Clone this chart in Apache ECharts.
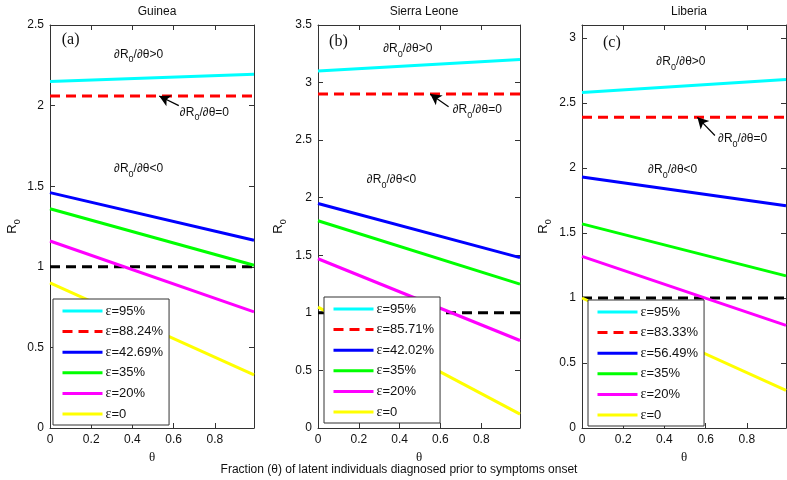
<!DOCTYPE html>
<html>
<head>
<meta charset="utf-8">
<script src="https://cdn.jsdelivr.net/npm/echarts@6/dist/echarts.min.js"></script>
<style>
  html, body { margin: 0; padding: 0; background: #fff; }
  #chart { width: 787px; height: 480px; }
</style>
</head>
<body>
<div id="chart"></div>
<script>
// theta range of every curve (endpoints, the curves are straight)
const theta = [0, 0.99]

const panelTitles = ['Guinea', 'Sierra Leone', 'Liberia']
const panelTags = ['(a)', '(b)', '(c)']

// legend labels per panel
const guineaNames = ['ε=95%', 'ε=88.24%', 'ε=42.69%', 'ε=35%', 'ε=20%', 'ε=0']
const sierraNames = ['ε=95%', 'ε=85.71%', 'ε=42.02%', 'ε=35%', 'ε=20%', 'ε=0']
const liberiaNames = ['ε=95%', 'ε=83.33%', 'ε=56.49%', 'ε=35%', 'ε=20%', 'ε=0']

// R0 at theta = 0 and theta = 0.99, same order as the names
const guineaR0 = [[2.15, 2.195], [2.06, 2.06], [1.46, 1.165], [1.36, 1.01], [1.16, 0.72], [0.9, 0.33]]
const sierraR0 = [[3.1, 3.2], [2.9, 2.9], [1.95, 1.48], [1.8, 1.25], [1.47, 0.76], [1.05, 0.12]]
const liberiaR0 = [[2.58, 2.68], [2.39, 2.39], [1.93, 1.71], [1.57, 1.17], [1.32, 0.79], [1.0, 0.29]]

const threshold = [1, 1]

// y axis ranges
const yMax = [2.5, 3.5, 3.1]

// annotation anchors (data coords): tag, >0, =0 text, arrow tip, arrow tail, <0
const tagPos = [[0.1, 2.41], [0.1, 3.35], [0.145, 2.96]]
const posText = [[0.43, 2.33], [0.44, 3.31], [0.48, 2.83]]
const zeroText = [[0.63, 1.97], [0.66, 2.78], [0.66, 2.24]]
const arrowTip = [[0.53, 2.06], [0.55, 2.9], [0.56, 2.39]]
const arrowTail = [[0.625, 2.0], [0.64, 2.79], [0.645, 2.25]]
const negText = [[0.43, 1.62], [0.36, 2.17], [0.44, 2.0]]

const colors = ['#00ffff', '#ff0000', '#0000ff', '#00ff00', '#ff00ff', '#ffff00']

const names = [guineaNames, sierraNames, liberiaNames]
const values = [guineaR0, sierraR0, liberiaR0]

const font = 'Liberation Sans, Arial, sans-serif'
const serif = 'Liberation Serif, Times New Roman, serif'
const grids = [
  { left: 50, right: 533, top: 25, bottom: 52 },
  { left: 318, right: 267, top: 25, bottom: 52 },
  { left: 582, right: 1, top: 25, bottom: 52 }
]
const legendBox = [{ left: 53, top: 299 }, { left: 324, top: 297 }, { left: 588, top: 300 }]
const yNameX = [11, 277, 542]

const rich = {
  a: { fontFamily: font, fontSize: 12, color: '#111', lineHeight: 16, verticalAlign: 'bottom' },
  s: { fontFamily: font, fontSize: 9, color: '#111', lineHeight: 10, verticalAlign: 'bottom', padding: [0, 0, -4, 0] },
  t: { fontFamily: serif, fontSize: 16, color: '#111' }
}
const deriv = (op) => `{a|∂R}{s|0}{a|/∂θ${op}0}`

function onlyTicks(step) {
  return (v) => Math.abs(v / step - Math.round(v / step)) < 1e-6 ? String(+v.toFixed(2)) : ''
}

const xAxis = [], yAxis = [], series = [], legend = [], title = [], graphic = []

for (let p = 0; p < 3; p++) {
  const base = {
    gridIndex: p, type: 'value', min: 0,
    axisLine: { show: true, onZero: false, lineStyle: { color: '#333', width: 1 } },
    axisTick: { show: true, inside: true, length: 5, lineStyle: { color: '#333' } },
    splitLine: { show: false }
  }
  xAxis.push(Object.assign({}, base, {
    max: theta[1], interval: 0.2, position: 'bottom',
    axisLabel: { fontFamily: font, fontSize: 12, color: '#111', margin: 6, formatter: onlyTicks(0.2), showMaxLabel: false },
    name: 'θ', nameLocation: 'middle', nameGap: 22,
    nameTextStyle: { fontFamily: serif, fontSize: 13, color: '#111' }
  }))
  xAxis.push(Object.assign({}, base, {
    max: theta[1], interval: 0.2, position: 'top', axisLabel: { show: false }
  }))
  yAxis.push(Object.assign({}, base, {
    max: yMax[p], interval: 0.5, position: 'left',
    axisLabel: { fontFamily: font, fontSize: 12, color: '#111', margin: 6, formatter: onlyTicks(0.5) }
  }))
  yAxis.push(Object.assign({}, base, {
    max: yMax[p], interval: 0.5, position: 'right', axisLabel: { show: false }
  }))

  for (let i = 0; i < 6; i++) {
    series.push({
      name: names[p][i], type: 'line', xAxisIndex: 2 * p, yAxisIndex: 2 * p,
      data: theta.map((t, k) => [t, values[p][i][k]]),
      symbol: 'none', color: colors[i], silent: true, z: 2,
      lineStyle: { color: colors[i], width: 3, type: i === 1 ? [10, 6] : 'solid' }
    })
  }
  // R0 = 1 reference line, carries the annotations
  series.push({
    name: 'R0=1 ' + p, type: 'line', xAxisIndex: 2 * p, yAxisIndex: 2 * p,
    data: theta.map((t, k) => [t, threshold[k]]),
    symbol: 'none', silent: true, z: 1,
    lineStyle: { color: '#000', width: 3, type: [10, 6] },
    markPoint: {
      symbol: 'circle', symbolSize: 0, silent: true,
      label: { show: true, position: 'inside', rich: rich },
      data: [
        { coord: tagPos[p], label: { formatter: '{t|' + panelTags[p] + '}' } },
        { coord: posText[p], label: { formatter: deriv('>') } },
        { coord: zeroText[p], label: { formatter: deriv('='), position: 'right', distance: 0 } },
        { coord: negText[p], label: { formatter: deriv('<') } }
      ]
    },
    markLine: {
      silent: true, symbol: ['none', 'arrow'], symbolSize: [9, 11],
      label: { show: false },
      lineStyle: { color: '#000', width: 1.2, type: 'solid' },
      data: [[{ coord: arrowTail[p] }, { coord: arrowTip[p] }]]
    }
  })

  legend.push({
    data: names[p], orient: 'vertical', left: legendBox[p].left, top: legendBox[p].top,
    itemWidth: 40, itemHeight: 14, itemGap: 6.6, padding: [5, 6, 4, 8],
    backgroundColor: '#fff', borderColor: '#333', borderWidth: 1, borderRadius: 0,
    selectedMode: false, z: 20,
    itemStyle: { opacity: 0 },
    lineStyle: { width: 3 },
    formatter: (n) => '{e|ε}{n|' + n.slice(1) + '}',
    textStyle: {
      fontFamily: font, fontSize: 13, color: '#111', padding: [0, 0, 0, -2],
      rich: {
        e: { fontFamily: serif, fontSize: 14, color: '#111' },
        n: { fontFamily: font, fontSize: 13, color: '#111' }
      }
    }
  })

  const g = grids[p]
  const center = g.left + (787 - g.left - g.right) / 2
  title.push({
    text: panelTitles[p], left: center, top: 1, textAlign: 'center',
    textStyle: { fontFamily: font, fontSize: 12, fontWeight: 'normal', color: '#111' }
  })

  // rotated y axis title R0
  graphic.push({
    type: 'text', x: yNameX[p], y: (g.top + 480 - g.bottom) / 2, rotation: Math.PI / 2,
    style: {
      text: '{r|R}{s|0}', align: 'center', verticalAlign: 'middle',
      rich: {
        r: { fontFamily: font, fontSize: 13, fill: '#111', verticalAlign: 'bottom', lineHeight: 15 },
        s: { fontFamily: font, fontSize: 9, fill: '#111', verticalAlign: 'bottom', lineHeight: 10, padding: [0, 0, -4, 0] }
      }
    }
  })
}

title.push({
  text: 'Fraction (θ) of latent individuals diagnosed prior to symptoms onset',
  left: 394, textAlign: 'center', top: 459,
  textStyle: { fontFamily: font, fontSize: 12, fontWeight: 'normal', color: '#111' }
})

const chart = echarts.init(document.getElementById('chart'))
chart.setOption({
  animation: false,
  backgroundColor: '#fff',
  title: title,
  legend: legend,
  grid: grids.map(g => Object.assign({ containLabel: false }, g)),
  xAxis: xAxis,
  yAxis: yAxis,
  series: series,
  graphic: graphic
})
</script>
</body>
</html>
